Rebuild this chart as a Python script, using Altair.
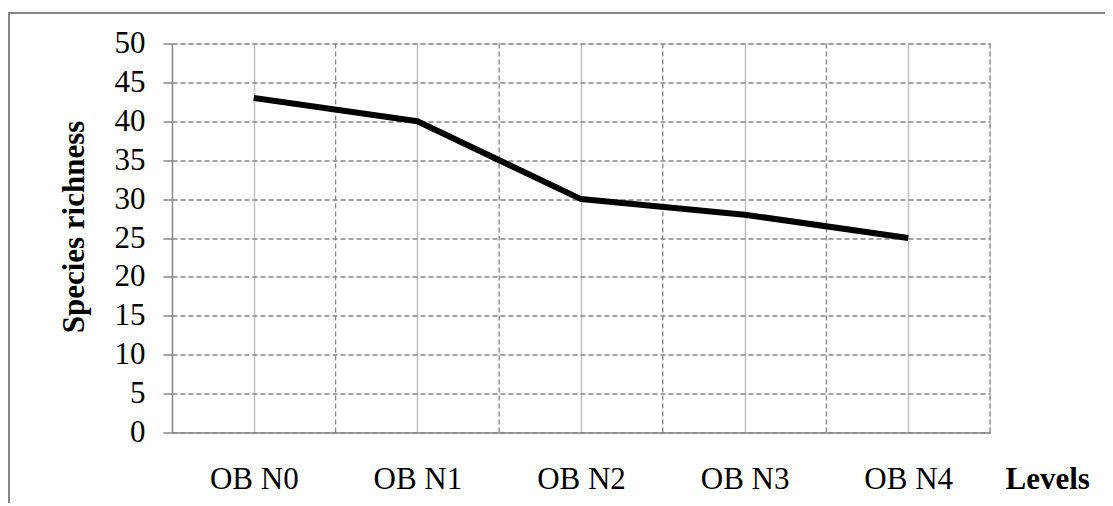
import altair as alt
import pandas as pd

levels = ["OB N0", "OB N1", "OB N2", "OB N3", "OB N4"]
richness = [43, 40, 30, 28, 25]

df = pd.DataFrame({"idx": list(range(len(levels))), "level": levels, "value": richness})
bounds = pd.DataFrame({"b": [i + 0.5 for i in range(len(levels))]})

label_expr = "[" + ",".join(f"'{l}'" for l in levels) + "][datum.value]"

FONT = "Liberation Serif"
GRID = "#858585"
AXIS = "#868686"
FS = 31

xscale = alt.Scale(domain=[-0.5, len(levels) - 0.5], nice=False, zero=False)
yscale = alt.Scale(domain=[0, 50], nice=False)

frame = alt.Chart(df).mark_rect(fill=None, stroke=AXIS, strokeWidth=2).encode(
    x=alt.value(-163), x2=alt.value(1200), y=alt.value(-30.5), y2=alt.value(700)
)

vrules = alt.Chart(bounds).mark_rule(color=GRID, strokeDash=[5, 3], strokeWidth=1.3).encode(
    x=alt.X("b:Q", scale=xscale)
)

line = alt.Chart(df).mark_line(color="black", strokeWidth=6, strokeCap="butt", strokeJoin="round").encode(
    x=alt.X(
        "idx:Q",
        scale=xscale,
        axis=alt.Axis(
            values=list(range(len(levels))),
            labelExpr=label_expr,
            ticks=False,
            grid=True,
            gridColor="#c0c0c0",
            gridWidth=1.5,
            domainColor=AXIS,
            domainWidth=1.5,
            labelFont=FONT,
            labelFontSize=FS,
            labelColor="black",
            labelBaseline="alphabetic",
            labelPadding=56,
            title="Levels",
            titleFont=FONT,
            titleFontSize=FS,
            titleFontWeight="bold",
            titleColor="black",
            titleAlign="left",
            titleBaseline="alphabetic",
            titleX=833,
            titleY=56,
        ),
    ),
    y=alt.Y(
        "value:Q",
        scale=yscale,
        axis=alt.Axis(
            values=list(range(0, 51, 5)),
            tickSize=9,
            tickColor=AXIS,
            tickWidth=1.5,
            grid=True,
            gridColor=GRID,
            gridDash=[5, 3],
            gridWidth=1.3,
            domainColor=AXIS,
            domainWidth=1.5,
            labelFont=FONT,
            labelFontSize=FS,
            labelColor="black",
            labelPadding=18,
            title="Species richness",
            titleFont=FONT,
            titleFontSize=FS,
            titleFontWeight="bold",
            titleColor="black",
            titleAngle=-90,
            titleAlign="center",
            titleBaseline="alphabetic",
            titleX=-89,
            titleY=183,
        ),
    ),
)

chart = alt.layer(frame, vrules, line).properties(
    width=818,
    height=389,
    autosize=alt.AutoSizeParams(type="none"),
    padding={"left": 164, "top": 35.5, "right": 115, "bottom": 70},
).configure_view(stroke=None).configure(background="white")

chart.save("out.html", embed_options={"renderer": "svg", "actions": False})
